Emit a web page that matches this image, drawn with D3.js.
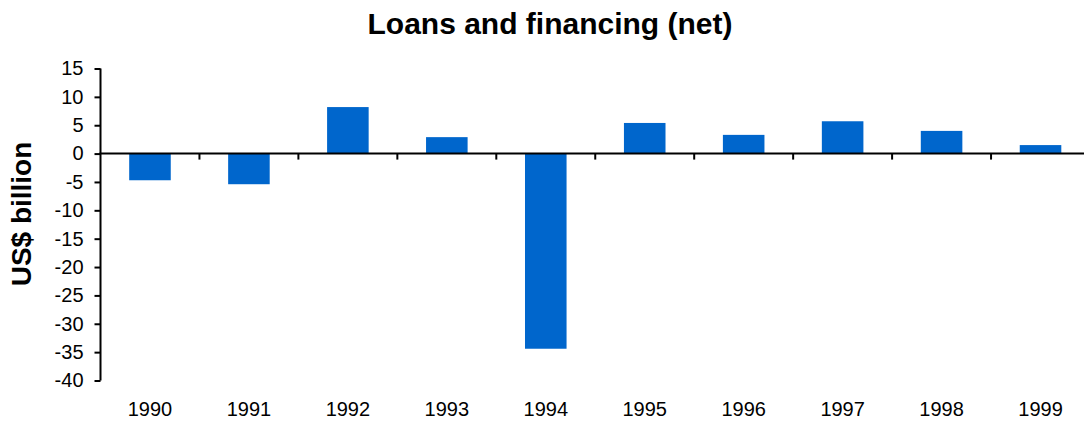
<!DOCTYPE html>
<html>
<head>
<meta charset="utf-8">
<script src="https://cdn.jsdelivr.net/npm/d3@7/dist/d3.min.js"></script>
<style>
  html, body { margin: 0; padding: 0; background: #fff; }
  svg { display: block; font-family: "Liberation Sans", Arial, sans-serif; }
</style>
</head>
<body>
<svg id="chart" width="1084" height="421"></svg>
<script>
// Net loans and financing, US$ billion
const years = ["1990", "1991", "1992", "1993", "1994", "1995", "1996", "1997", "1998", "1999"];
const values = [-4.7, -5.4, 8.2, 2.9, -34.4, 5.4, 3.3, 5.7, 4.0, 1.5];
const yTicks = [15, 10, 5, 0, -5, -10, -15, -20, -25, -30, -35, -40];

const svg = d3.select("#chart");
const plotLeft = 100.5, plotRight = 1090, plotTop = 68.5, plotBottom = 380.5;

const x = d3.scaleBand().domain(years).range([plotLeft, plotRight]).padding(0);
const y = d3.scaleLinear().domain([-40, 15]).range([plotBottom, plotTop]);
const barW = x.bandwidth() * 0.42;

// title
svg.append("text")
  .attr("x", 550).attr("y", 33.5)
  .attr("text-anchor", "middle")
  .attr("font-size", 30).attr("font-weight", "bold")
  .text("Loans and financing (net)");

// y axis title
svg.append("text")
  .attr("transform", `translate(31,214) rotate(-90)`)
  .attr("text-anchor", "middle")
  .attr("font-size", 28).attr("font-weight", "bold")
  .text("US$ billion");

// bars
svg.append("g").selectAll("rect")
  .data(values)
  .join("rect")
  .attr("x", (d, i) => x(years[i]) + (x.bandwidth() - barW) / 2)
  .attr("width", barW)
  .attr("y", d => y(Math.max(0, d)))
  .attr("height", d => Math.abs(y(d) - y(0)))
  .attr("fill", "#0066cc");

// y axis (plain hyphen for negatives)
const yAxis = svg.append("g")
  .attr("transform", `translate(${plotLeft},0)`)
  .call(d3.axisLeft(y).tickValues(yTicks).tickSize(6).tickPadding(11).tickFormat(d => String(d)));
yAxis.select(".domain").attr("stroke", "#000").attr("stroke-width", 2).attr("d", `M0,${plotTop}V${plotBottom}`);
yAxis.selectAll(".tick line").attr("stroke", "#000").attr("stroke-width", 2);
yAxis.selectAll(".tick text").attr("font-size", 20).attr("fill", "#000")
  .attr("font-family", "'Liberation Sans', Arial, sans-serif");

// category axis along zero, with ticks at the band boundaries
const xAxis = svg.append("g").attr("transform", `translate(0,${y(0)})`);
xAxis.append("line")
  .attr("x1", plotLeft - 1).attr("x2", plotRight)
  .attr("stroke", "#000").attr("stroke-width", 2);
xAxis.selectAll("line.tk")
  .data(years.slice(1))
  .join("line")
  .attr("class", "tk")
  .attr("x1", d => x(d)).attr("x2", d => x(d))
  .attr("y1", 0).attr("y2", 6)
  .attr("stroke", "#000").attr("stroke-width", 2);

// year labels along the bottom
svg.append("g").selectAll("text")
  .data(years)
  .join("text")
  .attr("x", d => x(d) + x.bandwidth() / 2)
  .attr("y", 416)
  .attr("text-anchor", "middle")
  .attr("font-size", 20)
  .text(d => d);
</script>
</body>
</html>
